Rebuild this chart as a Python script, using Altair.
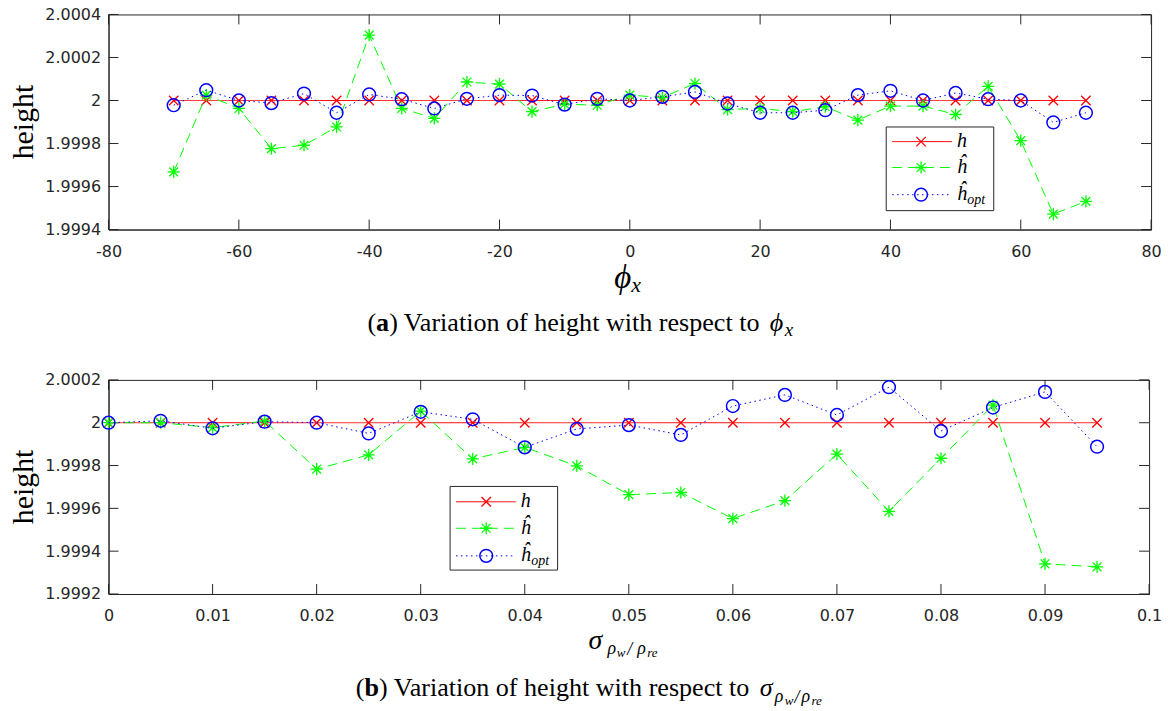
import altair as alt
import pandas as pd

# ---------------- data ----------------
phi = [-70, -65, -60, -55, -50, -45, -40, -35, -30, -25, -20, -15, -10, -5, 0,
       5, 10, 15, 20, 25, 30, 35, 40, 45, 50, 55, 60, 65, 70]
h_a = [2.0, 2.0, 2.0, 2.0, 2.0, 2.0, 2.0, 2.0, 2.0, 2.0, 2.0, 2.0, 2.0, 2.0, 2.0,
       2.0, 2.0, 2.0, 2.0, 2.0, 2.0, 2.0, 2.0, 2.0, 2.0, 2.0, 2.0, 2.0, 2.0]
hhat_a = [1.999668, 2.000025, 1.999963, 1.999776, 1.999792, 1.999877, 2.000304,
          1.999963, 1.999917, 2.000086, 2.000076, 1.999948, 1.999983, 1.999978,
          2.000025, 2.000014, 2.000079, 1.999958, 1.999963, 1.999948, 1.999971,
          1.999909, 1.999974, 1.999974, 1.999935, 2.000066, 1.999813, 1.999472,
          1.999531]
hopt_a = [1.999978, 2.000048, 2.0, 1.999988, 2.000032, 1.999943, 2.000028,
          2.000006, 1.999963, 2.000008, 2.000025, 2.000023, 1.999981, 2.000008,
          2.0, 2.000017, 2.00004, 1.999986, 1.999943, 1.999943, 1.999955,
          2.000025, 2.000045, 2.0, 2.000035, 2.000006, 2.0, 1.999898, 1.999943]

sigma = [0, 0.005, 0.01, 0.015, 0.02, 0.025, 0.03, 0.035, 0.04, 0.045, 0.05,
         0.055, 0.06, 0.065, 0.07, 0.075, 0.08, 0.085, 0.09, 0.095]
h_b = [2.0, 2.0, 2.0, 2.0, 2.0, 2.0, 2.0, 2.0, 2.0, 2.0, 2.0, 2.0, 2.0, 2.0,
       2.0, 2.0, 2.0, 2.0, 2.0, 2.0]
hhat_b = [2.0, 2.0, 1.999977, 2.000008, 1.999783, 1.99985, 2.000054, 1.999831,
          1.999885, 1.999798, 1.999664, 1.999674, 1.999552, 1.999636, 1.999853,
          1.999586, 1.999834, 2.000082, 1.999341, 1.999327]
hopt_b = [2.0, 2.000009, 1.999974, 2.000005, 2.0, 1.99995, 2.000051, 2.000016,
          1.999885, 1.999971, 1.999989, 1.999943, 2.000078, 2.00013, 2.000036,
          2.000166, 1.999961, 2.000071, 2.000144, 1.999888]

xticks_a = [-80, -60, -40, -20, 0, 20, 40, 60, 80]
yticks_a = [1.9994, 1.9996, 1.9998, 2.0, 2.0002, 2.0004]
xticks_b = [0, 0.01, 0.02, 0.03, 0.04, 0.05, 0.06, 0.07, 0.08, 0.09, 0.1]
yticks_b = [1.9992, 1.9994, 1.9996, 1.9998, 2.0, 2.0002]

# ---------------- styles ----------------
AX = "#262626"
SERIF = "Liberation Serif"
X_PATH = "M-1,-1L1,1M-1,1L1,-1"
STAR_PATH = "M-1,0L1,0M0,-1L0,1M-0.72,-0.72L0.72,0.72M-0.72,0.72L0.72,-0.72"
STYLES = [
    dict(color="#ff0000", dash=[1, 0], shape=X_PATH, size=90, sw=1.3),
    dict(color="#00ff00", dash=[10, 6], shape=STAR_PATH, size=150, sw=1.3),
    dict(color="#0000ff", dash=[1.5, 3.5], shape="circle", size=165, sw=1.5),
]
TICK = 10
CAP = 26.2


def txt(text, x, y, size=26, font=SERIF, style="normal", weight="normal",
        align="left", baseline="alphabetic", angle=0, color="black"):
    return alt.Chart(pd.DataFrame({"t": [text]})).mark_text(
        font=font, fontSize=size, fontStyle=style, fontWeight=weight,
        align=align, baseline=baseline, angle=angle, color=color
    ).encode(text="t:N", x=alt.value(x), y=alt.value(y))


def panel(xs, series, xdom, xticks, ydom, yticks, xfmt, W, H, leg, extra):
    sx = alt.Scale(domain=xdom, nice=False, zero=False)
    sy = alt.Scale(domain=ydom, nice=False, zero=False)
    xax = alt.Axis(values=xticks, labelExpr=xfmt, title=None, ticks=False,
                   grid=False, labelPadding=14, labelFlush=False)
    yax = alt.Axis(values=yticks, labelExpr="format(datum.value, '.4~f')",
                   title=None, ticks=False, grid=False, labelPadding=8)
    layers = []
    # inward ticks
    xt = pd.DataFrame({"v": xticks})
    yt = pd.DataFrame({"v": yticks})
    layers.append(alt.Chart(xt).mark_rule(color=AX, strokeWidth=1).encode(
        x=alt.X("v:Q", scale=sx, axis=xax), y=alt.value(H), y2=alt.value(H - TICK)))
    layers.append(alt.Chart(xt).mark_rule(color=AX, strokeWidth=1).encode(
        x=alt.X("v:Q", scale=sx, axis=xax), y=alt.value(0), y2=alt.value(TICK)))
    layers.append(alt.Chart(yt).mark_rule(color=AX, strokeWidth=1).encode(
        y=alt.Y("v:Q", scale=sy, axis=yax), x=alt.value(0), x2=alt.value(TICK)))
    layers.append(alt.Chart(yt).mark_rule(color=AX, strokeWidth=1).encode(
        y=alt.Y("v:Q", scale=sy, axis=yax), x=alt.value(W), x2=alt.value(W - TICK)))
    # series
    for vals, st in zip(series, STYLES):
        df = pd.DataFrame({"x": xs, "y": vals})
        enc = dict(x=alt.X("x:Q", scale=sx, axis=xax),
                   y=alt.Y("y:Q", scale=sy, axis=yax))
        layers.append(alt.Chart(df).mark_line(
            color=st["color"], strokeWidth=1, strokeDash=st["dash"]).encode(**enc))
        layers.append(alt.Chart(df).mark_point(
            shape=st["shape"], filled=False, color=st["color"], size=st["size"],
            strokeWidth=st["sw"], opacity=1).encode(**enc))
    # legend box
    bx0, bx1, by0, by1, lx0, lx1, mx, tx, rows = leg
    one = pd.DataFrame({"d": [0]})
    layers.append(alt.Chart(one).mark_rect(fill="white", stroke=AX, strokeWidth=1).encode(
        x=alt.value(bx0), x2=alt.value(bx1), y=alt.value(by0), y2=alt.value(by1)))
    for r, st in zip(rows, STYLES):
        layers.append(alt.Chart(one).mark_rule(
            color=st["color"], strokeWidth=1, strokeDash=st["dash"]).encode(
            x=alt.value(lx0), x2=alt.value(lx1), y=alt.value(r)))
        layers.append(alt.Chart(one).mark_point(
            shape=st["shape"], filled=False, color=st["color"], size=st["size"],
            strokeWidth=st["sw"], opacity=1).encode(x=alt.value(mx), y=alt.value(r)))
    layers.append(txt("h", tx, rows[0] + 5.5, size=20, style="italic"))
    layers.append(txt("ĥ", tx, rows[1] + 5.5, size=20, style="italic"))
    layers.append(txt("ĥ", tx, rows[2] + 5.5, size=20, style="italic"))
    layers.append(txt("opt", tx + 10.5, rows[2] + 9, size=14, style="italic"))
    # y title
    layers.append(txt("height", -85, H / 2, size=30, baseline="middle",
                      align="center", angle=270))
    layers.extend(extra)
    return alt.layer(*layers).properties(width=W, height=H)


# ---- panel (a) ----
Wa, Ha = 1047, 216
ca = 260
extra_a = [
    txt("ϕ", 508, 275, size=33, style="italic"),
    txt("x", 525, 279, size=22, style="italic"),
    txt("(", ca, 317.7, size=CAP),
    txt("a", ca + 8.7, 317.7, size=CAP, weight="bold"),
    txt(") Variation of height with respect to", ca + 21.8, 317.7, size=CAP),
    txt("ϕ", 664, 317.7, size=CAP, style="italic"),
    txt("x", 679, 322.7, size=19, style="italic"),
]
leg_a = (781, 889, 113, 197, 787, 847, 816, 852, [127.7, 153.7, 181])
top = panel(phi, [h_a, hhat_a, hopt_a], [-80, 80], xticks_a, [1.9994, 2.0004],
            yticks_a, "'' + datum.value", Wa, Ha, leg_a, extra_a)

# ---- panel (b) ----
Wb, Hb = 1045, 215
cb = 248.3
sx0 = 654
extra_b = [
    txt("σ", 482, 270, size=28, style="italic"),
    txt("ρ", 501, 275, size=18, style="italic"),
    txt("w", 510.5, 278.4, size=13, style="italic"),
    txt("/", 521, 276, size=18, style="italic"),
    txt("ρ", 531, 275, size=18, style="italic"),
    txt("re", 541, 278.4, size=13, style="italic"),
    txt("(", cb, 317.7, size=CAP),
    txt("b", cb + 8.7, 317.7, size=CAP, weight="bold"),
    txt(") Variation of height with respect to", cb + 23.3, 317.7, size=CAP),
    txt("σ", sx0, 317.7, size=CAP, style="italic"),
    txt("ρ", sx0 + 15, 323.5, size=18, style="italic"),
    txt("w", sx0 + 25, 326.5, size=13, style="italic"),
    txt("/", sx0 + 35, 324, size=18, style="italic"),
    txt("ρ", sx0 + 42, 323.5, size=18, style="italic"),
    txt("re", sx0 + 52, 326.5, size=13, style="italic"),
]
leg_b = (343, 451, 107, 191, 349, 409, 379.3, 414, [122.4, 149, 176.7])
bottom = panel(sigma, [h_b, hhat_b, hopt_b], [0, 0.1], xticks_b, [1.9992, 2.0002],
               yticks_b, "format(datum.value, '.2~f')", Wb, Hb, leg_b, extra_b)

chart = alt.vconcat(top, bottom, spacing=30).properties(
    padding={"left": 8, "top": 4, "right": 5, "bottom": 5},
    background="white",
).configure_view(stroke=AX, strokeWidth=1).configure_axis(
    domainColor=AX, domainWidth=1, labelColor=AX, labelFont="DejaVu Sans",
    labelFontSize=16,
)

chart.save("out.html", embed_options={"renderer": "svg", "actions": False})
